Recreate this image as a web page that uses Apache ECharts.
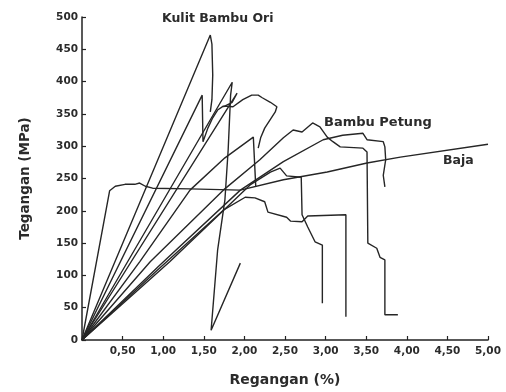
<!DOCTYPE html>
<html><head><meta charset="utf-8">
<script src="https://cdn.jsdelivr.net/npm/echarts@6/dist/echarts.min.js"></script>
<style>html,body{margin:0;padding:0;background:#fff}#c{width:506px;height:392px}</style>
</head><body><div id="c"></div>
<script>
// Strain (%) , stress (MPa) pairs
var baja = [[0,0],[0.34,231],[0.41,238],[0.53,241],[0.65,241],[0.71,243],[0.78,238],[0.87,235],[1.33,234],[1.95,232],[2.48,248],[3.02,260],[3.51,274],[3.92,283],[5.0,303]];
var kulit1 = [[0,0],[1.58,472],[1.60,458],[1.61,410],[1.60,372],[1.58,353]];
var kulit2 = [[0,0],[1.48,379],[1.49,307],[1.55,328],[1.61,344],[1.67,356],[1.74,362],[1.86,361],[1.98,372],[2.09,379],[2.17,379],[2.22,375],[2.32,368],[2.40,361],[2.38,353],[2.25,328],[2.20,313],[2.17,297]];
var kulit3 = [[0,0],[1.85,399],[1.83,379],[1.80,294],[1.76,217],[1.67,139],[1.59,15],[1.95,119]];
var kulit4 = [[0,0],[1.91,382],[1.85,368],[1.74,361]];
var petung1 = [[0,0],[0.71,121],[1.33,232],[1.76,282],[2.11,314],[2.14,237]];
var petung2 = [[0,0],[0.84,121],[1.74,232],[2.19,279],[2.48,313],[2.60,325],[2.71,322],[2.84,336],[2.93,330],[3.02,314],[3.09,307],[3.18,299],[3.46,297],[3.51,291],[3.52,150],[3.63,142],[3.67,128],[3.73,124],[3.73,39],[3.89,39]];
var petung3 = [[0,0],[0.96,116],[1.95,232],[2.48,276],[2.97,310],[3.21,317],[3.46,320],[3.51,310],[3.71,307],[3.73,299],[3.74,279],[3.71,255],[3.73,237]];
var petung4 = [[0,0],[1.08,121],[2.07,240],[2.32,260],[2.44,266],[2.52,254],[2.70,252],[2.71,194],[2.78,175],[2.87,152],[2.96,147],[2.96,57]];
var petung5 = [[0,0],[0.90,105],[1.74,201],[2.01,221],[2.13,220],[2.25,214],[2.29,198],[2.52,190],[2.57,184],[2.71,183],[2.78,192],[3.25,194],[3.25,36]];

var xTickValues = [0,0.5,1,1.5,2,2.5,3,3.5,4,4.5,5];
var xTickLabels = ['','0,50','1,00','1,50','2,00','2,50','3,00','3,50','4,00','4,50','5,00'];
var yTickLabels = ['0','50','100','150','200','250','300','350','400','450','500'];
var annotations = ['Kulit Bambu Ori','Bambu Petung','Baja'];

var allSeries = [baja,kulit1,kulit2,kulit3,kulit4,petung1,petung2,petung3,petung4,petung5];
var chart = echarts.init(document.getElementById('c'));
var txt = '#2b2b2b';
chart.setOption({
  animation:false,
  grid:{left:82,right:18,top:17,bottom:52},
  xAxis:{type:'value',min:0,max:5,interval:0.5,
    name:'Regangan (%)',nameLocation:'middle',nameGap:33,
    nameTextStyle:{fontFamily:'DejaVu Sans',fontWeight:'bold',fontSize:14,color:txt},
    axisLine:{lineStyle:{color:'#222',width:1.5}},
    axisTick:{inside:true,length:4,lineStyle:{color:'#222',width:1.2}},
    splitLine:{show:false},
    axisLabel:{fontFamily:'DejaVu Sans',fontWeight:'bold',fontSize:10.5,color:txt,margin:6,
      formatter:function(v){var i=xTickValues.indexOf(Math.round(v*100)/100);return i>=0?xTickLabels[i]:'';}}},
  yAxis:{type:'value',min:0,max:500,interval:50,
    name:'Tegangan (MPa)',nameLocation:'middle',nameGap:50,nameRotate:90,
    nameTextStyle:{fontFamily:'DejaVu Sans',fontWeight:'bold',fontSize:13.5,color:txt},
    axisLine:{show:true,lineStyle:{color:'#222',width:1.5}},
    axisTick:{show:true,inside:true,length:4,lineStyle:{color:'#222',width:1.2}},
    splitLine:{show:false},
    axisLabel:{fontFamily:'DejaVu Sans',fontWeight:'bold',fontSize:10.5,color:txt,margin:4,
      formatter:function(v){return yTickLabels[Math.round(v/50)];}}},
  series: allSeries.map(function(d){return {type:'line',data:d,showSymbol:false,symbol:'none',
      lineStyle:{color:'#262626',width:1.4},silent:true};}),
  graphic:[
    {type:'text',left:162,top:12,style:{text:annotations[0],font:'bold 12.5px "DejaVu Sans"',fill:txt}},
    {type:'text',left:324,top:116,style:{text:annotations[1],font:'bold 13px "DejaVu Sans"',fill:txt}},
    {type:'text',left:443,top:154,style:{text:annotations[2],font:'bold 12.5px "DejaVu Sans"',fill:txt}}
  ]
});
</script></body></html>
